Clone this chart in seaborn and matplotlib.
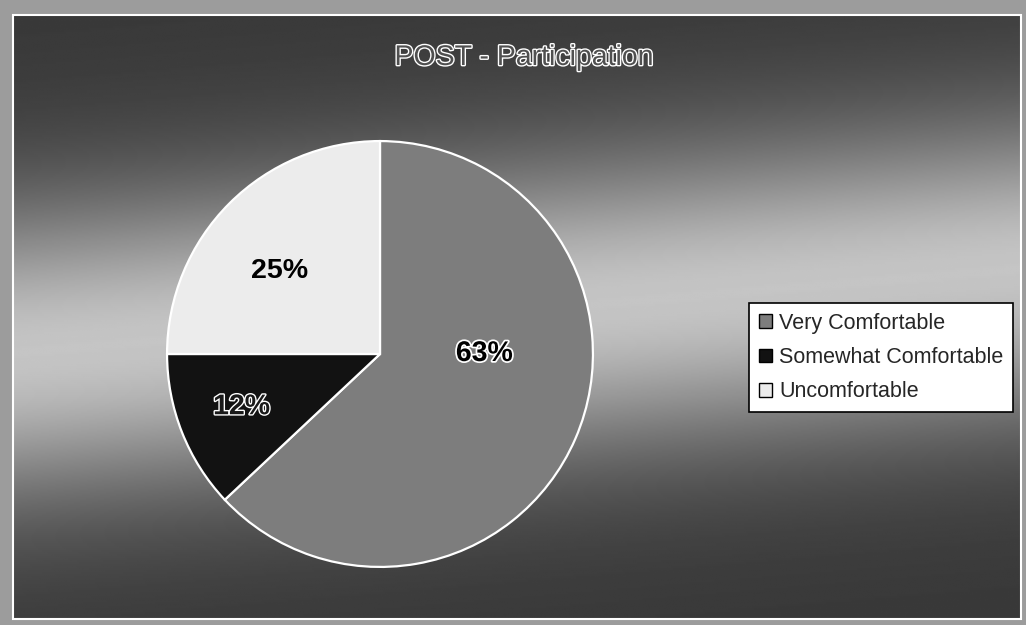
import numpy as np
import matplotlib.pyplot as plt
import matplotlib.patheffects as pe
from matplotlib.patches import Rectangle, Patch
import seaborn as sns

# данные
categories = ['Very Comfortable', 'Somewhat Comfortable', 'Uncomfortable']
shares = [63, 12, 25]
slice_colors = ['#7d7d7d', '#121212', '#ececec']
title = 'POST - Participation'

sns.set_theme(style='white')
plt.rcParams['font.family'] = ['Liberation Sans', 'DejaVu Sans']

W, H = 1026, 625
fig = plt.figure(figsize=(W / 100, H / 100), dpi=100)
fig.patch.set_facecolor('#9c9c9c')

# фон: серый градиент со светлой полосой по диагонали
bg = fig.add_axes([13 / W, 1 - 619 / H, (1021 - 13) / W, (619 - 15) / H])
yy, xx = np.mgrid[0:1:300j, 0:1:500j]
band = 0.56 - 0.14 * xx
shade = 0.22 + 0.55 * np.exp(-((yy - band) / 0.25) ** 2)
bg.imshow(shade, cmap='gray', vmin=0, vmax=1, aspect='auto', interpolation='bilinear')
bg.set_axis_off()
fig.patches.append(Rectangle((13 / W, 1 - 619 / H), (1021 - 13) / W, (619 - 15) / H,
                             transform=fig.transFigure, fill=False,
                             edgecolor='white', linewidth=1.5, zorder=5))

# круговая диаграмма
cx, cy, r = 380, 354, 214
ax = fig.add_axes([(cx - r) / W, (H - cy - r) / H, 2 * r / W, 2 * r / H])
wedges, texts, autotexts = ax.pie(
    shares, colors=slice_colors, startangle=90, counterclock=False,
    autopct='%d%%', pctdistance=0.62,
    wedgeprops=dict(edgecolor='white', linewidth=1.6))
ax.set_xlim(-1.005, 1.005)
ax.set_ylim(-1.005, 1.005)
ax.set_aspect('auto')
ax.set_axis_off()

# подписи процентов
label_xy = [(0.49, 0.0), (-0.65, -0.25), (-0.47, 0.39)]
for t, (lx, ly) in zip(autotexts, label_xy):
    t.set_position((lx, ly))
    t.set_fontsize(20.5)
    t.set_fontweight('bold')
    t.set_ha('center')
    t.set_va('center')
autotexts[0].set_color('black')
autotexts[0].set_path_effects([pe.withStroke(linewidth=2.5, foreground='white')])
autotexts[1].set_color('#1a1a1a')
autotexts[1].set_path_effects([pe.withStroke(linewidth=2, foreground='white')])
autotexts[2].set_color('black')

# заголовок
fig.text(524 / W, 1 - 58 / H, title, ha='center', va='center', fontsize=20.5,
         color='#505050', path_effects=[pe.withStroke(linewidth=2, foreground='white')])

# легенда
handles = [Patch(facecolor=c, edgecolor='black', linewidth=1) for c in slice_colors]
leg = fig.legend(handles, categories, loc='upper left',
                 bbox_to_anchor=(749 / W, 1 - 303 / H), fontsize=15.5,
                 frameon=True, fancybox=False, edgecolor='black', framealpha=1,
                 handlelength=0.6, handleheight=0.6, handletextpad=0.35,
                 labelspacing=0.62, borderpad=0.45, borderaxespad=0)
leg.get_frame().set_linewidth(1.2)

fig.savefig('out.png', dpi=100, facecolor=fig.get_facecolor())
